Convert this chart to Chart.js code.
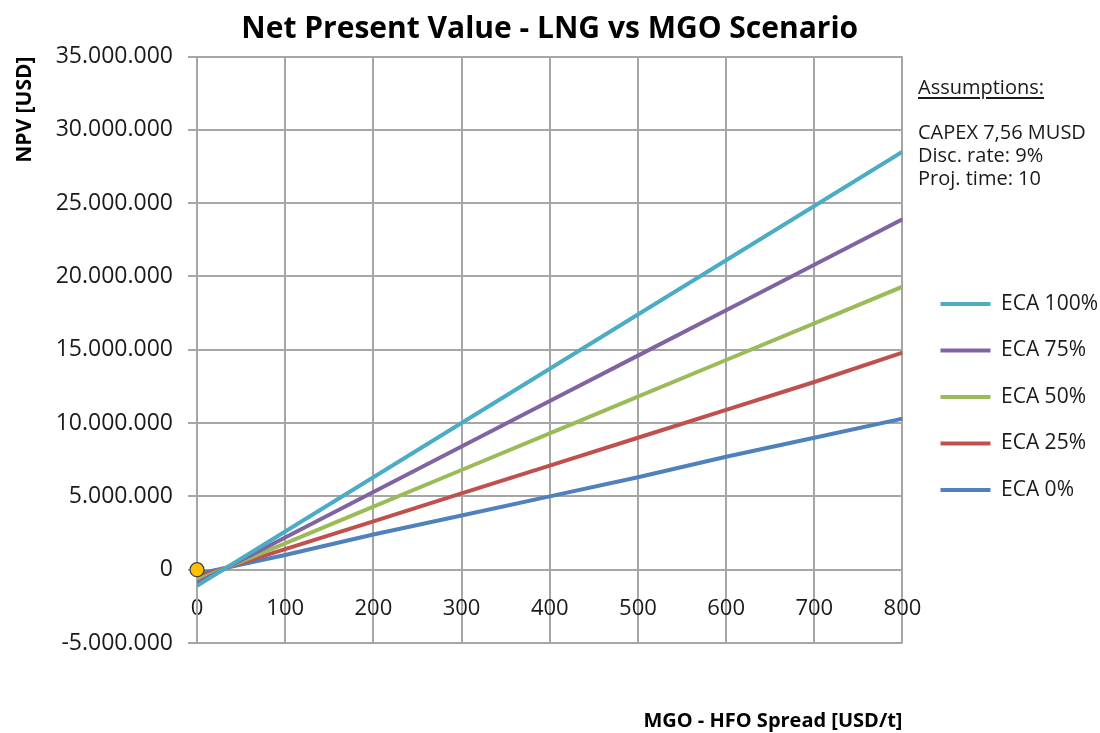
<!DOCTYPE html>
<html>
<head>
<meta charset="utf-8">
<script src="https://cdn.jsdelivr.net/npm/chart.js@4.4.1/dist/chart.umd.min.js"></script>
<style>
html,body{margin:0;padding:0;background:#fff;}
#wrap{position:relative;width:1100px;height:733px;overflow:hidden;}
#note{position:absolute;left:918px;top:76px;font-family:'Open Sans',sans-serif;font-size:20px;line-height:22.7px;color:#1a1a1a;white-space:nowrap;}
#note u{text-decoration-thickness:1.5px;text-underline-offset:3px;}
</style>
</head>
<body>
<div id="wrap">
<canvas id="c" width="1100" height="733"></canvas>
<div id="note"><u>Assumptions:</u><br><br>CAPEX 7,56 MUSD<br>Disc. rate: 9%<br>Proj. time: 10</div>
</div>
<script>
// ---- data ----
const spread = [0, 100, 200, 300, 400, 500, 600, 700, 800];           // MGO - HFO spread [USD/t]
const seriesNames = ['ECA 100%', 'ECA 75%', 'ECA 50%', 'ECA 25%', 'ECA 0%'];
const eca100 = [-1100000, 2600000, 6300000, 10000000, 13700000, 17400000, 21100000, 24800000, 28500000];
const eca75  = [-900000, 2200000, 5300000, 8400000, 11500000, 14600000, 17700000, 20800000, 23900000];
const eca50  = [-700000, 1800000, 4300000, 6800000, 9300000, 11800000, 14300000, 16800000, 19300000];
const eca25  = [-500000, 1400000, 3300000, 5200000, 7100000, 9000000, 10900000, 12800000, 14800000];
const eca0   = [-300000, 1000000, 2400000, 3700000, 5000000, 6300000, 7700000, 9000000, 10300000];
const originPoint = [{x: 0, y: 0}];
const yTicksMin = -5000000, yTicksMax = 35000000, yStep = 5000000;
const xTicksMin = 0, xTicksMax = 800, xStep = 100;

// ---- styles ----
const colors = ['#4BACC6', '#8064A2', '#9BBB59', '#C0504D', '#4F81BD'];
const gridColor = '#a6a6a6';
const textColor = '#1a1a1a';
Chart.defaults.font.family = "'Open Sans', sans-serif";

function fmtDots(v) {
  const s = Math.abs(v).toString().replace(/\B(?=(\d{3})+(?!\d))/g, '.');
  return (v < 0 ? '-' : '') + s;
}
const toPoints = arr => spread.map((s, i) => ({x: s, y: arr[i]}));
const seriesValues = [eca100, eca75, eca50, eca25, eca0];

const datasets = seriesValues.map((vals, i) => ({
  label: seriesNames[i],
  data: toPoints(vals),
  borderColor: colors[i],
  backgroundColor: colors[i],
  borderWidth: 4,
  pointRadius: 0,
  tension: 0,
  fill: false,
  xAxisID: 'x',
  yAxisID: 'y'
}));
datasets.push({
  label: 'origin',
  data: originPoint,
  showLine: false,
  pointRadius: 7,
  pointBackgroundColor: '#FFC000',
  pointBorderColor: '#404040',
  pointBorderWidth: 1.2,
  clip: false,
  order: -1,
  xAxisID: 'x',
  yAxisID: 'y'
});

const baseLabels = Chart.defaults.plugins.legend.labels.generateLabels;

new Chart(document.getElementById('c'), {
  type: 'line',
  data: {datasets},
  options: {
    responsive: false,
    animation: false,
    devicePixelRatio: 1,
    layout: {padding: {left: 0, right: -8, top: 0, bottom: 0}},
    plugins: {
      title: {
        display: true,
        text: 'Net Present Value - LNG vs MGO Scenario',
        fullSize: false,
        color: '#000',
        font: {size: 30, weight: 'bold', lineHeight: 1.2},
        padding: {top: 11.7, bottom: 8.8}
      },
      subtitle: {
        display: true,
        text: 'MGO - HFO Spread [USD/t]',
        position: 'bottom',
        fullSize: false,
        align: 'end',
        color: '#000',
        font: {size: 20, weight: 'bold', lineHeight: 1.2},
        padding: {top: 66, bottom: 0}
      },
      legend: {
        position: 'right',
        align: 'center',
        title: {display: true, text: '', font: {size: 10, lineHeight: 1.2}, padding: {top: 0, bottom: 68.5}},
        labels: {
          usePointStyle: true,
          pointStyle: 'line',
          pointStyleWidth: 50,
          padding: 6,
          color: textColor,
          font: {size: 21, lineHeight: 40.5 / 21},
          generateLabels: chart => baseLabels(chart).map(l => Object.assign(l, {text: [l.text]})),
          filter: item => item.datasetIndex < seriesNames.length
        }
      },
      tooltip: {enabled: false}
    },
    scales: {
      x: {
        type: 'linear',
        position: {y: 0},
        min: xTicksMin,
        max: xTicksMax,
        ticks: {stepSize: xStep, padding: 26, color: textColor, font: {size: 22}},
        grid: {color: gridColor, lineWidth: 2, drawTicks: false},
        border: {color: gridColor, width: 2}
      },
      y: {
        type: 'linear',
        position: 'left',
        min: yTicksMin,
        max: yTicksMax,
        ticks: {stepSize: yStep, padding: 15, color: textColor, font: {size: 23}, callback: v => fmtDots(v)},
        grid: {color: gridColor, lineWidth: 2, drawTicks: true, tickLength: 9},
        border: {color: gridColor, width: 2},
        title: {display: true, text: 'NPV [USD]', align: 'end', color: '#000', font: {size: 21, weight: 'bold', lineHeight: 1.2}, padding: {top: 12, bottom: 0}},
        afterFit: s => { s.width = 197; }
      },
      yR: {
        type: 'linear',
        position: 'right',
        display: true,
        grid: {display: false, drawTicks: false},
        border: {display: false},
        ticks: {display: false},
        afterFit: s => { s.width = 32; }
      }
    }
  }
});
</script>
</body>
</html>
